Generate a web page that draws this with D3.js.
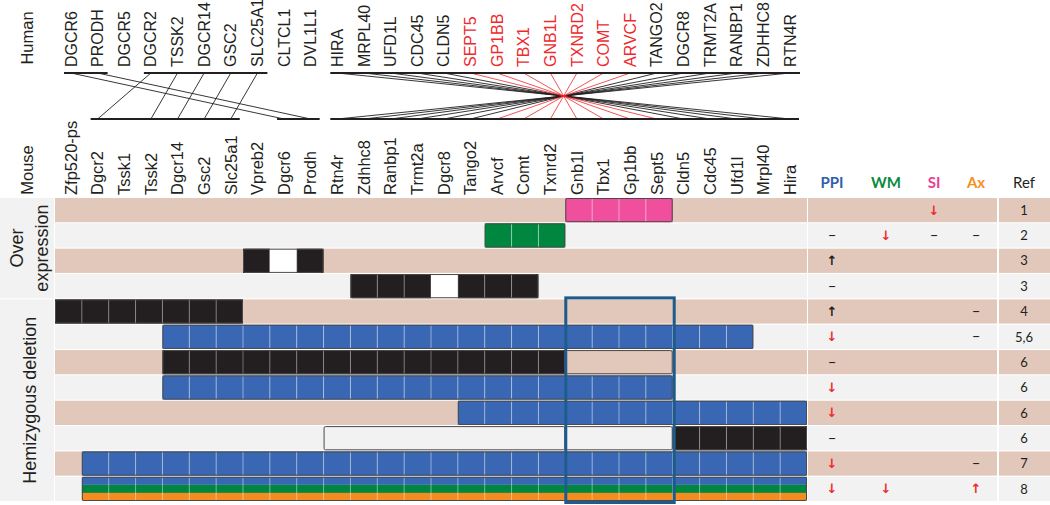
<!DOCTYPE html>
<html><head><meta charset="utf-8">
<script src="https://cdn.jsdelivr.net/npm/d3@7"></script>
<style>
body{margin:0;background:#fff;}
svg{display:block;}
.gl{font-family:"Liberation Sans",Arial,sans-serif;font-size:16.5px;fill:#231f20;}
.hl{font-size:16px;}
.side{font-family:"Liberation Sans",Arial,sans-serif;font-size:18px;fill:#231f20;}
.hdr{font-family:Lato,"Open Sans",sans-serif;font-size:15px;font-weight:bold;}
.ref{font-family:Lato,"Open Sans",sans-serif;font-size:13px;fill:#231f20;}
.sym{font-family:"DejaVu Sans",sans-serif;font-size:13px;font-weight:bold;}
</style></head>
<body><svg id="c" width="1050" height="505"></svg>
<script>
// ---------------- data ----------------
const mouseGenes = ["Zfp520-ps","Dgcr2","Tssk1","Tssk2","Dgcr14","Gsc2","Slc25a1","Vpreb2","Dgcr6","Prodh","Rtn4r","Zdhhc8","Ranbp1","Trmt2a","Dgcr8","Tango2","Arvcf","Comt","Txnrd2","Gnb1l","Tbx1","Gp1bb","Sept5","Cldn5","Cdc45","Ufd1l","Mrpl40","Hira"];
const humanGenes = ["DGCR6","PRODH","DGCR5","DGCR2","TSSK2","DGCR14","GSC2","SLC25A1","CLTCL1","DVL1L1","HIRA","MRPL40","UFD1L","CDC45","CLDN5","SEPT5","GP1BB","TBX1","GNB1L","TXNRD2","COMT","ARVCF","TANGO2","DGCR8","TRMT2A","RANBP1","ZDHHC8","RTN4R"];
const redGenes = ["SEPT5","GP1BB","TBX1","GNB1L","TXNRD2","COMT","ARVCF"];
const orthologs = [["DGCR6","Dgcr6"],["PRODH","Prodh"],["DGCR2","Dgcr2"],["TSSK2","Tssk2"],["DGCR14","Dgcr14"],["GSC2","Gsc2"],["SLC25A1","Slc25a1"],["HIRA","Hira"],["MRPL40","Mrpl40"],["UFD1L","Ufd1l"],["CDC45","Cdc45"],["CLDN5","Cldn5"],["SEPT5","Sept5"],["GP1BB","Gp1bb"],["TBX1","Tbx1"],["GNB1L","Gnb1l"],["TXNRD2","Txnrd2"],["COMT","Comt"],["ARVCF","Arvcf"],["TANGO2","Tango2"],["DGCR8","Dgcr8"],["TRMT2A","Trmt2a"],["RANBP1","Ranbp1"],["ZDHHC8","Zdhhc8"],["RTN4R","Rtn4r"]];
const humanBlocks = [["DGCR6","PRODH"],["DGCR2","SLC25A1"],["HIRA","RTN4R"]];
const mouseBlocks = [["Dgcr2","Slc25a1"],["Dgcr6","Prodh"],["Rtn4r","Hira"]];

const models = ["m1","m2","m3","m4","m5","m6","m7","m8","m9","m10","m11","m12"];
const sections = [{name:["Over","expression"], from:"m1", to:"m4"},{name:["Hemizygous deletion"], from:"m5", to:"m12"}];
// segments: model, first gene, last gene, kind, genes left unaffected
const segments = [
  ["m1","Gnb1l","Sept5","pink",[]],
  ["m2","Arvcf","Txnrd2","green",[]],
  ["m3","Vpreb2","Prodh","black",["Dgcr6"]],
  ["m4","Zdhhc8","Comt","black",["Dgcr8"]],
  ["m5","Zfp520-ps","Slc25a1","black",[]],
  ["m6","Dgcr14","Ufd1l","blue",[]],
  ["m7","Dgcr14","Txnrd2","black",[]],
  ["m7","Gnb1l","Sept5","empty",[]],
  ["m8","Dgcr14","Sept5","blue",[]],
  ["m9","Tango2","Hira","blue",[]],
  ["m10","Rtn4r","Txnrd2","empty",[]],
  ["m10","Gnb1l","Sept5","empty",[]],
  ["m10","Cldn5","Hira","black",[]],
  ["m11","Dgcr2","Hira","blue",[]],
  ["m12","Dgcr2","Hira","multi",[]]
];
const boxGenes = ["Gnb1l","Sept5"];
const boxModels = ["m5","m12"];

const phenotypes = ["PPI","WM","SI","Ax"];
// codes: d = decreased (red), u = increased, U = increased (red), n = no change
const ppi = ["","n","u","n","u","d","n","d","d","n","d","d"];
const wm  = ["","d","","","","","","","","","","d"];
const si  = ["d","n","","","","","","","","","",""];
const ax  = ["","n","","","n","n","","","","","n","U"];
const refs = ["1","2","3","3","4","5,6","6","6","6","6","7","8"];

// ---------------- styles ----------------
const C = {tan:"#e2c8bb", grey:"#f2f2f2", blue:"#3967b3", black:"#231f20", pink:"#ef4f9c",
           green:"#00873f", orange:"#f68b1f", white:"#ffffff", red:"#ee2a2f", box:"#1d5b8c"};
const hdrColor = {PPI:"#2e5fad", WM:"#0a8a3d", SI:"#ec3e92", Ax:"#f39020"};

const svg = d3.select("#c");
const x = d3.scaleBand().domain(mouseGenes).range([55, 807]).padding(0);
const y = d3.scaleBand().domain(models).range([198, 501]).paddingInner(0.045).paddingOuter(0);
const xm = d3.scalePoint().domain(mouseGenes).range([71, 790]);
const xh = d3.scalePoint().domain(humanGenes).range([71, 790]);
const xp = d3.scaleLinear().domain([0,1,2,3]).range([832, 886, 934, 976]);
const xRef = 1024;
const yHumanBar = 73, yMouseBar = 119;

// ---------- top: labels and ortholog lines ----------
svg.append("g").selectAll("text").data(humanGenes).join("text")
  .attr("class","gl hl")
  .attr("transform", d => `translate(${xh(d)},67) rotate(-90)`)
  .attr("dy","0.35em")
  .style("fill", d => redGenes.includes(d) ? C.red : "#231f20")
  .text(d => d);

svg.append("g").selectAll("text").data(mouseGenes).join("text")
  .attr("class","gl")
  .attr("transform", d => `translate(${xm(d)},195) rotate(-90)`)
  .attr("dy","0.35em")
  .text(d => d);

svg.append("text").attr("class","gl").attr("transform","translate(27,38) rotate(-90)")
  .attr("text-anchor","middle").attr("dy","0.35em").text("Human");
svg.append("text").attr("class","gl").attr("transform","translate(27,170) rotate(-90)")
  .attr("text-anchor","middle").attr("dy","0.35em").text("Mouse");

const lines = svg.append("g");
const sortedLinks = orthologs.slice().sort((a,b) => redGenes.includes(a[0]) - redGenes.includes(b[0]));
lines.selectAll("line.l").data(sortedLinks).join("line")
  .attr("x1", d => xh(d[0])).attr("y1", yHumanBar)
  .attr("x2", d => xm(d[1])).attr("y2", yMouseBar)
  .attr("stroke", d => redGenes.includes(d[0]) ? C.red : "#231f20")
  .attr("stroke-width", d => redGenes.includes(d[0]) ? 0.8 : 0.9);
lines.selectAll("line.hb").data(humanBlocks).join("line").attr("class","hb")
  .attr("x1", d => xh(d[0]) - 7).attr("x2", d => xh(d[1]) + 10)
  .attr("y1", yHumanBar).attr("y2", yHumanBar).attr("stroke","#231f20").attr("stroke-width",2);
lines.selectAll("line.mb").data(mouseBlocks).join("line").attr("class","mb")
  .attr("x1", d => xm(d[0]) - 7).attr("x2", d => xm(d[1]) + 9)
  .attr("y1", yMouseBar).attr("y2", yMouseBar).attr("stroke","#231f20").attr("stroke-width",2);

// ---------- row backgrounds ----------
const bg = (i) => i % 2 === 0 ? C.tan : C.grey;
const rows = svg.append("g");
models.forEach((m,i) => {
  rows.append("rect").attr("x",55).attr("width",752).attr("y",y(m)).attr("height",y.bandwidth()).attr("fill",bg(i));
  rows.append("rect").attr("x",808).attr("width",189).attr("y",y(m)).attr("height",y.bandwidth()).attr("fill",bg(i));
  rows.append("rect").attr("x",999).attr("width",51).attr("y",y(m)).attr("height",y.bandwidth()).attr("fill",bg(i));
});

// ---------- section labels ----------
sections.forEach(s => {
  const y0 = y(s.from), y1 = y(s.to) + y.bandwidth();
  svg.append("rect").attr("x",0).attr("width",54).attr("y",y0).attr("height",y1-y0).attr("fill",C.grey);
  const t = svg.append("text").attr("class","side")
    .attr("transform",`translate(${s.name.length>1?17:30},${(y0+y1)/2}) rotate(-90)`)
    .attr("text-anchor","middle").attr("dy","0.35em");
  s.name.forEach((n,k) => t.append("tspan").attr("x",0).attr("dy", k===0 ? "0.35em" : "1.35em").text(n));
});

// ---------- gene cells ----------
const cellsG = svg.append("g");
segments.forEach(([m, g0, g1, kind, spared]) => {
  const i0 = mouseGenes.indexOf(g0), i1 = mouseGenes.indexOf(g1);
  const genes = mouseGenes.slice(i0, i1+1);
  const y0 = y(m), h = y.bandwidth();
  const gx0 = x(g0), gx1 = x(g1) + x.bandwidth();
  const rowBg = bg(models.indexOf(m));
  const g = cellsG.append("g");
  if (kind === "multi") {
    const bands = [C.blue, C.green, C.orange];
    bands.forEach((c,k) => g.append("rect").attr("x",gx0).attr("width",gx1-gx0)
      .attr("y", y0 + k*h/3).attr("height", h/3).attr("fill", c));
  } else {
    g.selectAll("rect.c").data(genes).join("rect").attr("class","c")
      .attr("x", d => x(d)).attr("width", x.bandwidth())
      .attr("y", y0).attr("height", h)
      .attr("fill", d => spared.includes(d) ? C.white : (kind === "empty" ? rowBg : C[kind]));
  }
  if (kind !== "empty") {
    g.selectAll("line").data(genes.slice(1)).join("line")
      .attr("x1", d => x(d)).attr("x2", d => x(d)).attr("y1", y0).attr("y2", y0+h)
      .attr("stroke", "#ffffff").attr("stroke-opacity", kind === "black" ? 0.35 : 0.45).attr("stroke-width",1);
  }
  g.append("rect").attr("x",gx0+0.5).attr("y",y0+0.5).attr("width",gx1-gx0-1).attr("height",h-1)
    .attr("rx",1.5).attr("fill","none").attr("stroke","#4a4a4a").attr("stroke-width",1);
});

// highlight box
const bx0 = x(boxGenes[0]), bx1 = x(boxGenes[1]) + x.bandwidth();
const by0 = y(boxModels[0]) - 1.5, by1 = y(boxModels[1]) + y.bandwidth() + 1.5;
svg.append("rect").attr("x", bx0 + 0.5).attr("y", by0).attr("width", bx1 - bx0 + 1).attr("height", by1 - by0)
  .attr("fill","none").attr("stroke",C.box).attr("stroke-width",3);

// ---------- phenotype headers ----------
phenotypes.forEach((p,k) => svg.append("text").attr("class","hdr").attr("x",xp(k)).attr("y",188)
  .attr("text-anchor","middle").attr("fill",hdrColor[p]).text(p));
svg.append("text").attr("class","hdr").attr("x",xRef).attr("y",188).attr("text-anchor","middle")
  .style("font-weight","normal").attr("fill","#231f20").text("Ref");

// ---------- phenotype symbols ----------
const symText = {d:"↓", u:"↑", U:"↑", n:"–"};
const symColor = {d:C.red, u:"#231f20", U:C.red, n:"#231f20"};
const pg = svg.append("g");
[ppi, wm, si, ax].forEach((col,k) => {
  col.forEach((v,i) => {
    if (!v) return;
    const t = pg.append("text").attr("x", xp(k)).attr("y", y(models[i]) + y.bandwidth()/2)
      .attr("text-anchor","middle").attr("dy","0.35em").attr("fill", symColor[v]).text(symText[v]);
    if (v === "n") t.attr("class","ref").style("font-size","15px").attr("dy","0.3em");
    else t.attr("class","sym");
  });
});
pg.selectAll("text.r").data(refs).join("text").attr("class","ref")
  .attr("x", xRef).attr("y", (d,i) => y(models[i]) + y.bandwidth()/2)
  .attr("dy","0.36em").attr("text-anchor","middle").text(d => d);
</script></body></html>
